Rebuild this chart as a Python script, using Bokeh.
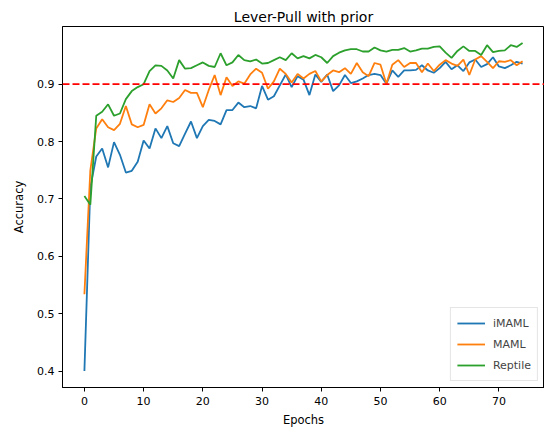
from bokeh.plotting import figure
from bokeh.models import Span, FixedTicker, Range1d, Legend
from bokeh.embed import file_html
from bokeh.resources import INLINE

epochs = list(range(75))
imaml = [0.400, 0.720, 0.774, 0.788, 0.755, 0.799, 0.777, 0.746, 0.749, 0.765,
         0.802, 0.788, 0.823, 0.806, 0.827, 0.797, 0.792, 0.814, 0.835, 0.806,
         0.827, 0.838, 0.836, 0.830, 0.855, 0.855, 0.868, 0.860, 0.862, 0.858,
         0.897, 0.873, 0.879, 0.898, 0.917, 0.895, 0.914, 0.908, 0.881, 0.917,
         0.904, 0.917, 0.888, 0.898, 0.916, 0.902, 0.905, 0.910, 0.916, 0.918,
         0.916, 0.901, 0.924, 0.913, 0.924, 0.924, 0.925, 0.933, 0.924, 0.920,
         0.928, 0.939, 0.926, 0.933, 0.923, 0.938, 0.943, 0.930, 0.935, 0.947,
         0.931, 0.928, 0.933, 0.939, 0.936]
maml = [0.534, 0.750, 0.823, 0.839, 0.825, 0.820, 0.831, 0.862, 0.830, 0.825,
        0.829, 0.865, 0.849, 0.858, 0.872, 0.869, 0.876, 0.890, 0.885, 0.885,
        0.860, 0.890, 0.916, 0.881, 0.912, 0.897, 0.905, 0.901, 0.917, 0.927,
        0.920, 0.892, 0.905, 0.927, 0.918, 0.903, 0.918, 0.910, 0.918, 0.923,
        0.905, 0.916, 0.924, 0.921, 0.928, 0.918, 0.937, 0.921, 0.914, 0.937,
        0.934, 0.901, 0.934, 0.942, 0.930, 0.937, 0.937, 0.921, 0.936, 0.923,
        0.934, 0.942, 0.936, 0.932, 0.943, 0.916, 0.943, 0.949, 0.939, 0.928,
        0.940, 0.939, 0.942, 0.933, 0.940]
reptile = [0.705, 0.690, 0.845, 0.852, 0.865, 0.845, 0.849, 0.874, 0.888, 0.895,
           0.900, 0.923, 0.933, 0.932, 0.924, 0.910, 0.942, 0.927, 0.928, 0.933,
           0.938, 0.932, 0.930, 0.954, 0.933, 0.938, 0.951, 0.942, 0.940, 0.943,
           0.936, 0.937, 0.942, 0.947, 0.942, 0.954, 0.945, 0.949, 0.945, 0.951,
           0.947, 0.937, 0.949, 0.955, 0.959, 0.961, 0.961, 0.957, 0.957, 0.964,
           0.959, 0.957, 0.960, 0.960, 0.963, 0.957, 0.959, 0.962, 0.962, 0.965,
           0.966, 0.955, 0.946, 0.958, 0.966, 0.958, 0.958, 0.951, 0.968, 0.956,
           0.958, 0.959, 0.968, 0.965, 0.972]
threshold = 0.9
x_ticks = [0, 10, 20, 30, 40, 50, 60, 70]
y_ticks = [0.4, 0.5, 0.6, 0.7, 0.8, 0.9]

FONT = "DejaVu Sans"

p = figure(width=544, height=434, output_backend="svg", toolbar_location=None,
           title="Lever-Pull with prior",
           x_range=Range1d(-3.7, 77.7), y_range=Range1d(0.3714, 1.0006),
           min_border_left=62, min_border_right=0, min_border_top=26, min_border_bottom=47)

p.title.align = "center"
p.title.text_font = FONT
p.title.text_font_size = "14px"
p.title.text_font_style = "normal"
p.title.text_color = "black"
p.title.standoff = 4

p.grid.visible = False
p.outline_line_color = "black"
p.outline_line_width = 1
p.outline_line_alpha = 1

for ax in (p.xaxis[0], p.yaxis[0]):
    ax.axis_line_color = "black"
    ax.major_tick_line_color = "black"
    ax.minor_tick_line_color = None
    ax.major_tick_out = 4
    ax.major_tick_in = 0
    ax.major_label_text_font = FONT
    ax.major_label_text_font_size = "11px"
    ax.major_label_text_color = "black"
    ax.axis_label_text_font = FONT
    ax.axis_label_text_font_size = "11.5px"
    ax.axis_label_text_font_style = "normal"
    ax.axis_label_text_color = "black"

p.xaxis.ticker = FixedTicker(ticks=x_ticks)
p.yaxis.ticker = FixedTicker(ticks=y_ticks)
p.xaxis.axis_label = "Epochs"
p.yaxis.axis_label = "Accuracy"
p.xaxis.major_label_standoff = 5
p.yaxis.major_label_standoff = 4
p.xaxis.axis_label_standoff = 5
p.yaxis.axis_label_standoff = 8

p.add_layout(Span(location=threshold, dimension="width", line_color="red",
                  line_dash="7 3", line_width=1.8))

r1 = p.line(epochs, imaml, line_color="#1f77b4", line_width=1.8)
r2 = p.line(epochs, maml, line_color="#ff7f0e", line_width=1.8)
r3 = p.line(epochs, reptile, line_color="#2ca02c", line_width=1.8)

legend = Legend(items=[("iMAML", [r1]), ("MAML", [r2]), ("Reptile", [r3])],
                location="bottom_right")
legend.border_line_color = "#cccccc"
legend.background_fill_alpha = 0.8
legend.label_text_font = FONT
legend.label_text_font_size = "11px"
legend.glyph_width = 28
legend.glyph_height = 18
legend.label_height = 18
legend.spacing = 3
legend.padding = 6
legend.margin = 6
legend.label_standoff = 8
p.add_layout(legend)

open("out.html", "w").write(file_html(p, INLINE))
